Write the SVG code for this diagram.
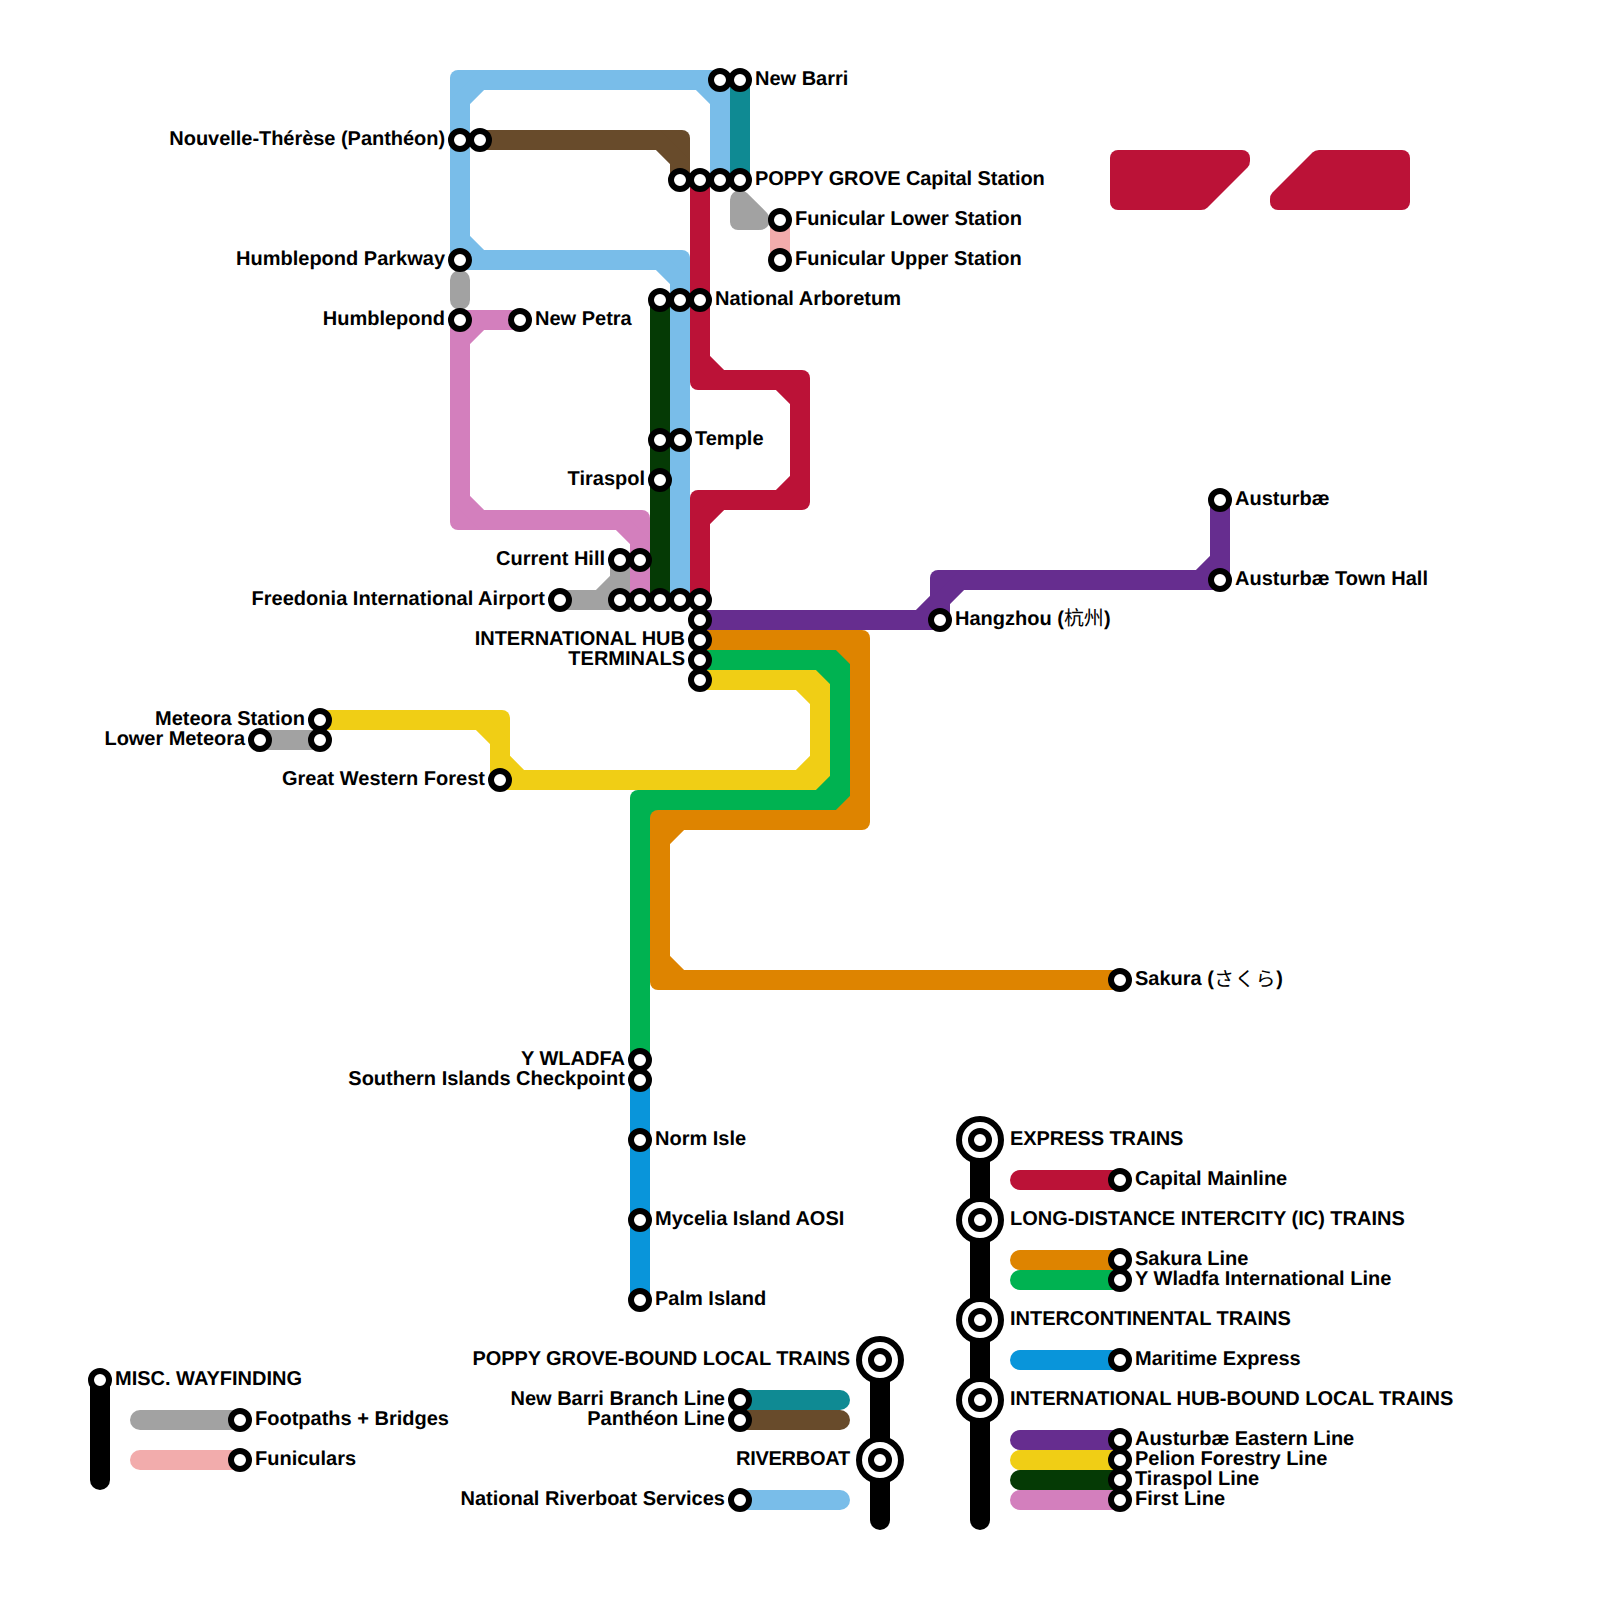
<svg xmlns="http://www.w3.org/2000/svg" xmlns:xlink="http://www.w3.org/1999/xlink" width="1600" height="1600" viewBox="0 0 1600 1600">
<style>
.l{fill:none;stroke:currentColor;stroke-width:20;stroke-linejoin:miter}
.r{stroke-linecap:round}
.c{fill:currentColor}
.st{fill:#fff;stroke:#000;stroke-width:6}
.big{fill:#fff;stroke:#000;stroke-width:6}
text{font-family:"Liberation Sans","Noto Sans CJK SC",sans-serif;font-size:20px;font-weight:700;fill:#000;text-rendering:geometricPrecision;transform:translateY(.5px)}
.e{text-anchor:end}
.cjk{font-weight:400}
.gray{color:#a2a2a2}.fun{color:#f2acac}.blue{color:#79bde9}.teal{color:#0f8a93}.brown{color:#684b2b}.red{color:#bb1237}.dk{color:#053a05}.pink{color:#d37fbd}.purple{color:#662d8f}.yellow{color:#f0ce15}.green{color:#00b251}.orange{color:#de8400}.sea{color:#0995da}.blk{color:#000}
</style>
<defs>
<path id="tl" class="c" d="M0 30V8A8 8 0 0 1 8 0H30Z"/>
<path id="tr" class="c" d="M0 30V8A8 8 0 0 0 -8 0H-30Z"/>
<path id="bl" class="c" d="M0 -30V-8A8 8 0 0 0 8 0H30Z"/>
<path id="br" class="c" d="M0 -30V-8A8 8 0 0 1 -8 0H-30Z"/>
<circle id="s" class="st" r="9"/>
<circle id="b" class="big" r="21"/>
</defs>
<rect width="1600" height="1600" fill="#fff"/>
<g id="connectors">
<g id="footpaths" class="gray">
<path class="l r" d="M740 200L760 220"/><use href="#bl" x="730" y="230"/>
<path class="l r" d="M460 280V300"/>
<path class="l r" d="M560 600H600L620 580V560"/><path class="l" d="M600 600H620V580"/><use href="#br" x="630" y="610"/>
<path class="l" d="M260 740H320"/>
</g>
<path id="funicular" class="l fun" d="M780 220V260"/>
<g id="riverboat" class="blue">
<path class="l" d="M720 180V100L700 80H480L460 100V240L480 260H660L680 280V600"/>
<use href="#tl" x="450" y="70"/><use href="#tr" x="730" y="70"/><use href="#bl" x="450" y="270"/><use href="#tr" x="690" y="250"/>
</g>
<path id="new-barri-line" class="l teal" d="M740 80V180"/>
<g id="pantheon-line" class="brown">
<path class="l" d="M480 140H660L680 160V180"/><use href="#tr" x="690" y="130"/>
</g>
<g id="capital-mainline" class="red">
<path class="l" d="M700 180V360L720 380H780L800 400V480L780 500H720L700 520V600"/>
<use href="#bl" x="690" y="390"/><use href="#tr" x="810" y="370"/><use href="#br" x="810" y="510"/><use href="#tl" x="690" y="490"/>
</g>
<path id="tiraspol-line" class="l dk" d="M660 300V600"/>
<g id="first-line" class="pink">
<path class="l" d="M520 320H480L460 340V500L480 520H620L640 540V600"/>
<use href="#tl" x="450" y="310"/><use href="#bl" x="450" y="530"/><use href="#tr" x="650" y="510"/>
</g>
<g id="austurbae-line" class="purple">
<path class="l" d="M700 620H920L960 580H1200L1220 560V500"/>
<use href="#br" x="950" y="630"/><use href="#tl" x="930" y="570"/><use href="#br" x="1230" y="590"/>
</g>
<g id="pelion-line" class="yellow">
<path class="l" d="M320 720H480L500 740V760L520 780H800L820 760V700L800 680H700"/>
<use href="#tr" x="510" y="710"/><use href="#bl" x="490" y="790"/><use href="#br" x="830" y="790"/><use href="#tr" x="830" y="670"/>
</g>
<g id="wladfa-line" class="green">
<path class="l" d="M700 660H820L840 680V780L820 800H660L640 820V1060"/>
<use href="#tr" x="850" y="650"/><use href="#br" x="850" y="810"/><use href="#tl" x="630" y="790"/>
</g>
<g id="sakura-line" class="orange">
<path class="l" d="M700 640H840L860 660V800L840 820H680L660 840V960L680 980H1120"/>
<use href="#tr" x="870" y="630"/><use href="#br" x="870" y="830"/><use href="#tl" x="650" y="810"/><use href="#bl" x="650" y="990"/>
</g>
<path id="maritime-express" class="l sea" d="M640 1080V1300"/>
</g>
<g id="legend-lines">
<path class="l r blk" d="M100 1380V1480"/>
<path class="l r blk" d="M880 1360V1520"/>
<path class="l r blk" d="M980 1140V1520"/>
<path class="l r gray" d="M140 1420H240"/>
<path class="l r fun" d="M140 1460H240"/>
<path class="l r teal" d="M740 1400H840"/>
<path class="l r brown" d="M740 1420H840"/>
<path class="l r blue" d="M740 1500H840"/>
<path class="l r red" d="M1020 1180H1120"/>
<path class="l r orange" d="M1020 1260H1120"/>
<path class="l r green" d="M1020 1280H1120"/>
<path class="l r sea" d="M1020 1360H1120"/>
<path class="l r purple" d="M1020 1440H1120"/>
<path class="l r yellow" d="M1020 1460H1120"/>
<path class="l r dk" d="M1020 1480H1120"/>
<path class="l r pink" d="M1020 1500H1120"/>
</g>
<g id="block-left" class="red"><path class="c" d="M1118 150H1242A8 8 0 0 1 1250 158V161Q1250 165 1247.500 167.500L1207.500 207.500Q1205 210 1201 210H1118A8 8 0 0 1 1110 202V158A8 8 0 0 1 1118 150Z"/></g>
<g id="block-right" class="red"><path class="c" d="M1319 150H1402A8 8 0 0 1 1410 158V202A8 8 0 0 1 1402 210H1278A8 8 0 0 1 1270 202V199Q1270 195 1272.500 192.500L1312.500 152.500Q1315 150 1319 150Z"/></g>
<g id="n-new-barri"><use href="#s" x="720" y="80"/><use href="#s" x="740" y="80"/><text x="755" y="84">New Barri</text></g>
<g id="n-poppy-grove"><use href="#s" x="680" y="180"/><use href="#s" x="700" y="180"/><use href="#s" x="720" y="180"/><use href="#s" x="740" y="180"/><text x="755" y="184" letter-spacing="-.08">POPPY GROVE Capital Station</text></g>
<g id="n-funicular-lower"><use href="#s" x="780" y="220"/><text x="795" y="224" letter-spacing="-.04">Funicular Lower Station</text></g>
<g id="n-funicular-upper"><use href="#s" x="780" y="260"/><text x="795" y="264">Funicular Upper Station</text></g>
<g id="n-nouvelle"><use href="#s" x="460" y="140"/><use href="#s" x="480" y="140"/><text class="e" x="445" y="144" letter-spacing="-.04">Nouvelle-Thérèse (Panthéon)</text></g>
<g id="n-humblepond-parkway"><use href="#s" x="460" y="260"/><text class="e" x="445" y="264">Humblepond Parkway</text></g>
<g id="n-humblepond"><use href="#s" x="460" y="320"/><text class="e" x="445" y="324">Humblepond</text></g>
<g id="n-new-petra"><use href="#s" x="520" y="320"/><text x="535" y="324">New Petra</text></g>
<g id="n-arboretum"><use href="#s" x="660" y="300"/><use href="#s" x="680" y="300"/><use href="#s" x="700" y="300"/><text x="715" y="304">National Arboretum</text></g>
<g id="n-temple"><use href="#s" x="660" y="440"/><use href="#s" x="680" y="440"/><text x="695" y="444">Temple</text></g>
<g id="n-tiraspol"><use href="#s" x="660" y="480"/><text class="e" x="645" y="484">Tiraspol</text></g>
<g id="n-current-hill"><use href="#s" x="620" y="560"/><use href="#s" x="640" y="560"/><text class="e" x="605" y="564">Current Hill</text></g>
<g id="n-freedonia"><use href="#s" x="560" y="600"/><text class="e" x="545" y="604" letter-spacing=".03">Freedonia International Airport</text></g>
<g id="n-hub"><use href="#s" x="620" y="600"/><use href="#s" x="640" y="600"/><use href="#s" x="660" y="600"/><use href="#s" x="680" y="600"/><use href="#s" x="700" y="600"/><use href="#s" x="700" y="620"/><use href="#s" x="700" y="640"/><use href="#s" x="700" y="660"/><use href="#s" x="700" y="680"/><text class="e" x="685" y="644">INTERNATIONAL HUB</text><text class="e" x="685" y="664">TERMINALS</text></g>
<g id="n-hangzhou"><use href="#s" x="940" y="620"/><text x="955" y="624">Hangzhou (<tspan class="cjk" style="font-family:'Noto Sans CJK SC'">杭州</tspan>)</text></g>
<g id="n-austurbae"><use href="#s" x="1220" y="500"/><text x="1235" y="504">Austurbæ</text></g>
<g id="n-austurbae-town-hall"><use href="#s" x="1220" y="580"/><text x="1235" y="584">Austurbæ Town Hall</text></g>
<g id="n-meteora"><use href="#s" x="320" y="720"/><text class="e" x="305" y="724">Meteora Station</text></g>
<g id="n-lower-meteora"><use href="#s" x="260" y="740"/><use href="#s" x="320" y="740"/><text class="e" x="245" y="744" letter-spacing="-.05">Lower Meteora</text></g>
<g id="n-great-western"><use href="#s" x="500" y="780"/><text class="e" x="485" y="784">Great Western Forest</text></g>
<g id="n-sakura"><use href="#s" x="1120" y="980"/><text x="1135" y="984">Sakura (<tspan class="cjk" dy="1.500" letter-spacing=".8" style="font-family:'Noto Sans CJK JP'">さくら</tspan><tspan dy="-1.500">)</tspan></text></g>
<g id="n-wladfa"><use href="#s" x="640" y="1060"/><text class="e" x="625" y="1064">Y WLADFA</text></g>
<g id="n-southern"><use href="#s" x="640" y="1080"/><text class="e" x="625" y="1084">Southern Islands Checkpoint</text></g>
<g id="n-norm"><use href="#s" x="640" y="1140"/><text x="655" y="1144">Norm Isle</text></g>
<g id="n-mycelia"><use href="#s" x="640" y="1220"/><text x="655" y="1224">Mycelia Island AOSI</text></g>
<g id="n-palm"><use href="#s" x="640" y="1300"/><text x="655" y="1304">Palm Island</text></g>
<g id="k-misc"><use href="#s" x="100" y="1380"/><text x="115" y="1384">MISC. WAYFINDING</text></g>
<g id="k-footpaths"><use href="#s" x="240" y="1420"/><text x="255" y="1424">Footpaths + Bridges</text></g>
<g id="k-funiculars"><use href="#s" x="240" y="1460"/><text x="255" y="1464">Funiculars</text></g>
<g id="k-poppy"><use href="#b" x="880" y="1360"/><use href="#s" x="880" y="1360"/><text class="e" x="850" y="1364" letter-spacing="-.1">POPPY GROVE-BOUND LOCAL TRAINS</text></g>
<g id="k-new-barri"><use href="#s" x="740" y="1400"/><text class="e" x="725" y="1404">New Barri Branch Line</text></g>
<g id="k-pantheon"><use href="#s" x="740" y="1420"/><text class="e" x="725" y="1424">Panthéon Line</text></g>
<g id="k-riverboat"><use href="#b" x="880" y="1460"/><use href="#s" x="880" y="1460"/><text class="e" x="850" y="1464" letter-spacing="-.25">RIVERBOAT</text></g>
<g id="k-national"><use href="#s" x="740" y="1500"/><text class="e" x="725" y="1504">National Riverboat Services</text></g>
<g id="k-express"><use href="#b" x="980" y="1140"/><use href="#s" x="980" y="1140"/><text x="1010" y="1144" letter-spacing="-.08">EXPRESS TRAINS</text></g>
<g id="k-capital"><use href="#s" x="1120" y="1180"/><text x="1135" y="1184">Capital Mainline</text></g>
<g id="k-long"><use href="#b" x="980" y="1220"/><use href="#s" x="980" y="1220"/><text x="1010" y="1224">LONG-DISTANCE INTERCITY (IC) TRAINS</text></g>
<g id="k-sakura"><use href="#s" x="1120" y="1260"/><text x="1135" y="1264">Sakura Line</text></g>
<g id="k-wladfa"><use href="#s" x="1120" y="1280"/><text x="1135" y="1284">Y Wladfa International Line</text></g>
<g id="k-inter"><use href="#b" x="980" y="1320"/><use href="#s" x="980" y="1320"/><text x="1010" y="1324" letter-spacing="-.03">INTERCONTINENTAL TRAINS</text></g>
<g id="k-maritime"><use href="#s" x="1120" y="1360"/><text x="1135" y="1364">Maritime Express</text></g>
<g id="k-hub"><use href="#b" x="980" y="1400"/><use href="#s" x="980" y="1400"/><text x="1010" y="1404" letter-spacing="-.03">INTERNATIONAL HUB-BOUND LOCAL TRAINS</text></g>
<g id="k-austurbae"><use href="#s" x="1120" y="1440"/><text x="1135" y="1444" letter-spacing="-.04">Austurbæ Eastern Line</text></g>
<g id="k-pelion"><use href="#s" x="1120" y="1460"/><text x="1135" y="1464">Pelion Forestry Line</text></g>
<g id="k-tiraspol"><use href="#s" x="1120" y="1480"/><text x="1135" y="1484">Tiraspol Line</text></g>
<g id="k-first"><use href="#s" x="1120" y="1500"/><text x="1135" y="1504">First Line</text></g>
</svg>
